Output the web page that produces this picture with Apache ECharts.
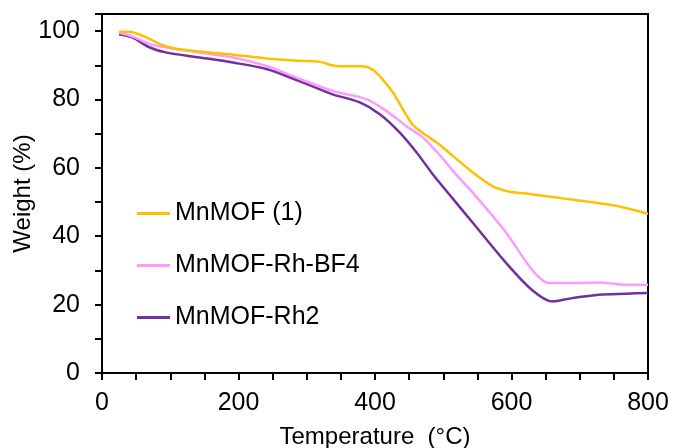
<!DOCTYPE html>
<html>
<head>
<meta charset="utf-8">
<script src="https://cdn.jsdelivr.net/npm/echarts@6/dist/echarts.min.js"></script>
<style>html,body{margin:0;padding:0;background:#fff}#c{width:673px;height:448px}</style>
</head>
<body>
<div id="c"></div>
<script>
var seriesNames = ['MnMOF (1)', 'MnMOF-Rh-BF4', 'MnMOF-Rh2'];
var seriesColors = ['#FFC000', '#FF99FF', '#7030A0'];

var mnmof = [[25,99.8],[40,99.8],[60,98.6],[85,96.2],[105,95.0],[143,94.0],[192,93.1],[241,92.0],[290,91.3],[319,91.0],[343,89.8],[382,89.7],[397,88.7],[411,85.9],[426,82.1],[441,77.1],[455,72.7],[470,70.2],[492,67.2],[514,63.5],[543,58.7],[563,55.8],[577,54.2],[597,53.0],[621,52.5],[660,51.5],[696,50.5],[730,49.6],[758,48.7],[800,46.6]];
var mnmofRhBF4 = [[25,99.6],[45,98.4],[70,96.2],[95,95.2],[143,93.7],[192,92.3],[241,89.8],[290,86.0],[338,82.5],[387,80.1],[417,76.6],[446,72.2],[470,68.9],[494,63.9],[519,58.0],[543,52.8],[592,41.1],[630,30.2],[655,26.3],[689,26.3],[728,26.5],[768,25.8],[800,25.8]];
var mnmofRh2 = [[25,99.1],[45,98.1],[70,95.2],[95,93.7],[143,92.3],[192,90.8],[241,88.9],[290,85.3],[338,81.5],[377,79.2],[407,75.7],[436,70.4],[461,64.5],[484,58.3],[514,51.0],[543,44.0],[592,32.2],[630,24.3],[660,20.9],[689,21.9],[728,22.9],[768,23.2],[800,23.4]];

var xTickLabels = [0, 200, 400, 600, 800];
var yTickLabels = [0, 20, 40, 60, 80, 100];

var FONT = 'Liberation Sans, Arial, sans-serif';
var chart = echarts.init(document.getElementById('c'));
var data = [mnmof, mnmofRhBF4, mnmofRh2];
chart.setOption({
  animation: false,
  backgroundColor: '#fff',
  grid: { left: 102, right: 25, top: 14, bottom: 75, show: true, borderColor: '#000', borderWidth: 2, containLabel: false, outerBoundsMode: 'none' },
  legend: {
    orient: 'vertical', left: 137, top: 201, padding: 0,
    itemWidth: 33, itemHeight: 3, itemGap: 27, icon: 'rect',
    textStyle: { fontFamily: FONT, fontSize: 25, color: '#000', lineHeight: 25 },
    data: seriesNames
  },
  xAxis: {
    type: 'value', min: 0, max: 800, interval: 50,
    name: 'Temperature  (°C)', nameLocation: 'middle', nameGap: 52, nameMoveOverlap: false,
    nameTextStyle: { fontFamily: FONT, fontSize: 24, color: '#000' },
    axisLine: { lineStyle: { color: '#000', width: 2 } },
    axisTick: { show: true, inside: false, length: 7, lineStyle: { color: '#000', width: 2 } },
    axisLabel: { fontFamily: FONT, fontSize: 25, color: '#000', margin: 18,
      formatter: function (v) { return xTickLabels.indexOf(v) >= 0 ? String(v) : ''; } },
    splitLine: { show: false }
  },
  yAxis: {
    type: 'value', min: 0, max: 105, interval: 10,
    name: 'Weight (%)', nameLocation: 'middle', nameGap: 67, nameRotate: 90, nameMoveOverlap: false,
    nameTextStyle: { fontFamily: FONT, fontSize: 24, color: '#000' },
    axisLine: { show: true, lineStyle: { color: '#000', width: 2 } },
    axisTick: { show: true, inside: false, length: 7, lineStyle: { color: '#000', width: 2 } },
    axisLabel: { fontFamily: FONT, fontSize: 25, color: '#000', margin: 22,
      formatter: function (v) { return yTickLabels.indexOf(v) >= 0 ? String(v) : ''; } },
    splitLine: { show: false }
  },
  series: seriesNames.map(function (n, i) {
    return {
      name: n, type: 'line', data: data[i], symbol: 'none', smooth: 0.3,
      color: seriesColors[i],
      lineStyle: { color: seriesColors[i], width: 2.5 },
      z: 3 - i
    };
  })
});
</script>
</body>
</html>
